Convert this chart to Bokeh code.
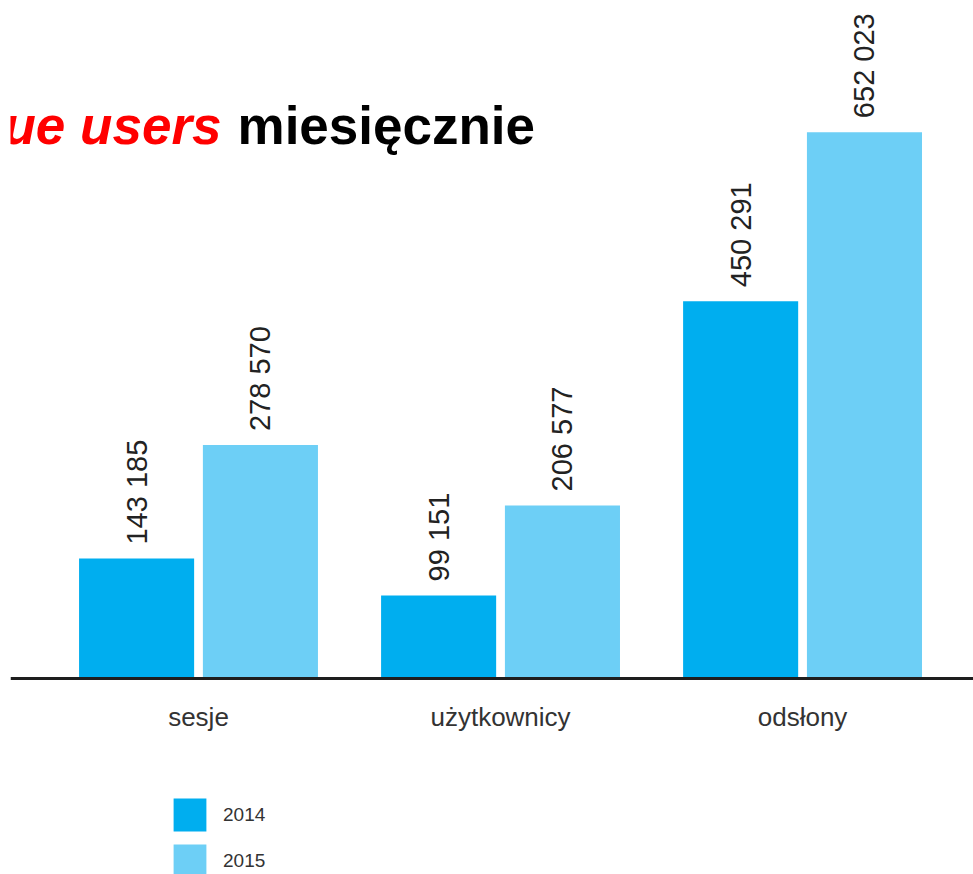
from bokeh.plotting import figure
from bokeh.models import (ColumnDataSource, Range1d, FixedTicker, Label, Legend, LegendItem)
from bokeh.transform import dodge
from bokeh.core.properties import value
from bokeh.embed import file_html
from bokeh.resources import INLINE

categories = ["sesje", "użytkownicy", "odsłony"]
values_2014 = [143185, 99151, 450291]
values_2015 = [278570, 206577, 652023]
series_names = ["2014", "2015"]

COL_2014 = "#00aeef"
COL_2015 = "#6dcff6"
FONT = "Liberation Sans"

def fmt(v):
    return f"{v:,}".replace(",", " ")

idx = list(range(len(categories)))
src = ColumnDataSource(dict(
    x=idx,
    v14=values_2014,
    v15=values_2015,
    l14=[fmt(v) for v in values_2014],
    l15=[fmt(v) for v in values_2015],
))

p = figure(width=973, height=874, output_backend="svg", toolbar_location=None,
           x_range=Range1d(-0.6225, 2.566), y_range=Range1d(-233900, 809100),
           min_border_left=10, min_border_right=0, min_border_top=0, min_border_bottom=0)
p.outline_line_color = None
p.xgrid.visible = False
p.ygrid.visible = False
p.yaxis.visible = False
p.background_fill_color = "white"
p.border_fill_color = "white"

off = 0.205
bw = 0.381
r14 = p.vbar(x=dodge("x", -off, range=p.x_range), top="v14", width=bw, bottom=0,
             source=src, fill_color=COL_2014, line_color=None)
r15 = p.vbar(x=dodge("x", off, range=p.x_range), top="v15", width=bw, bottom=0,
             source=src, fill_color=COL_2015, line_color=None)

for field, lab, d in (("v14", "l14", -off), ("v15", "l15", off)):
    p.text(x=dodge("x", d, range=p.x_range), y=field, text=lab, source=src,
           angle=1.5708, text_align="left", text_baseline="middle",
           y_offset=-14, text_font=value(FONT),
           text_font_size="29px", text_color="#222222")

xa = p.xaxis[0]
xa.fixed_location = 0
xa.ticker = FixedTicker(ticks=idx)
xa.major_label_overrides = {i: c for i, c in zip(idx, categories)}
xa.axis_line_width = 3
xa.axis_line_color = "#1e1e1e"
xa.major_tick_line_color = None
xa.minor_tick_line_color = None
xa.major_label_text_font = FONT
xa.major_label_text_font_size = "26px"
xa.major_label_text_color = "#333333"
xa.major_label_standoff = 18

legend = Legend(items=[LegendItem(label=series_names[0], renderers=[r14]),
                       LegendItem(label=series_names[1], renderers=[r15])],
                location=(159, -7), orientation="vertical",
                glyph_width=41, glyph_height=41, label_standoff=13, spacing=5,
                padding=0, margin=0, border_line_color=None, background_fill_alpha=0,
                label_text_font=FONT, label_text_font_size="19px",
                label_text_color="#333333", label_height=41)
p.add_layout(legend)

t1 = Label(x=211, y=749, x_units="screen", y_units="screen", text="ue users",
           text_align="right", text_baseline="alphabetic", text_color="#ff0000",
           text_font=FONT, text_font_style="bold italic", text_font_size="53px")
t2 = Label(x=227, y=749, x_units="screen", y_units="screen", text="miesięcznie",
           text_align="left", text_baseline="alphabetic", text_color="#000000",
           text_font=FONT, text_font_style="bold", text_font_size="53px")
p.add_layout(t1)
p.add_layout(t2)

open("out.html", "w").write(file_html(p, INLINE))
